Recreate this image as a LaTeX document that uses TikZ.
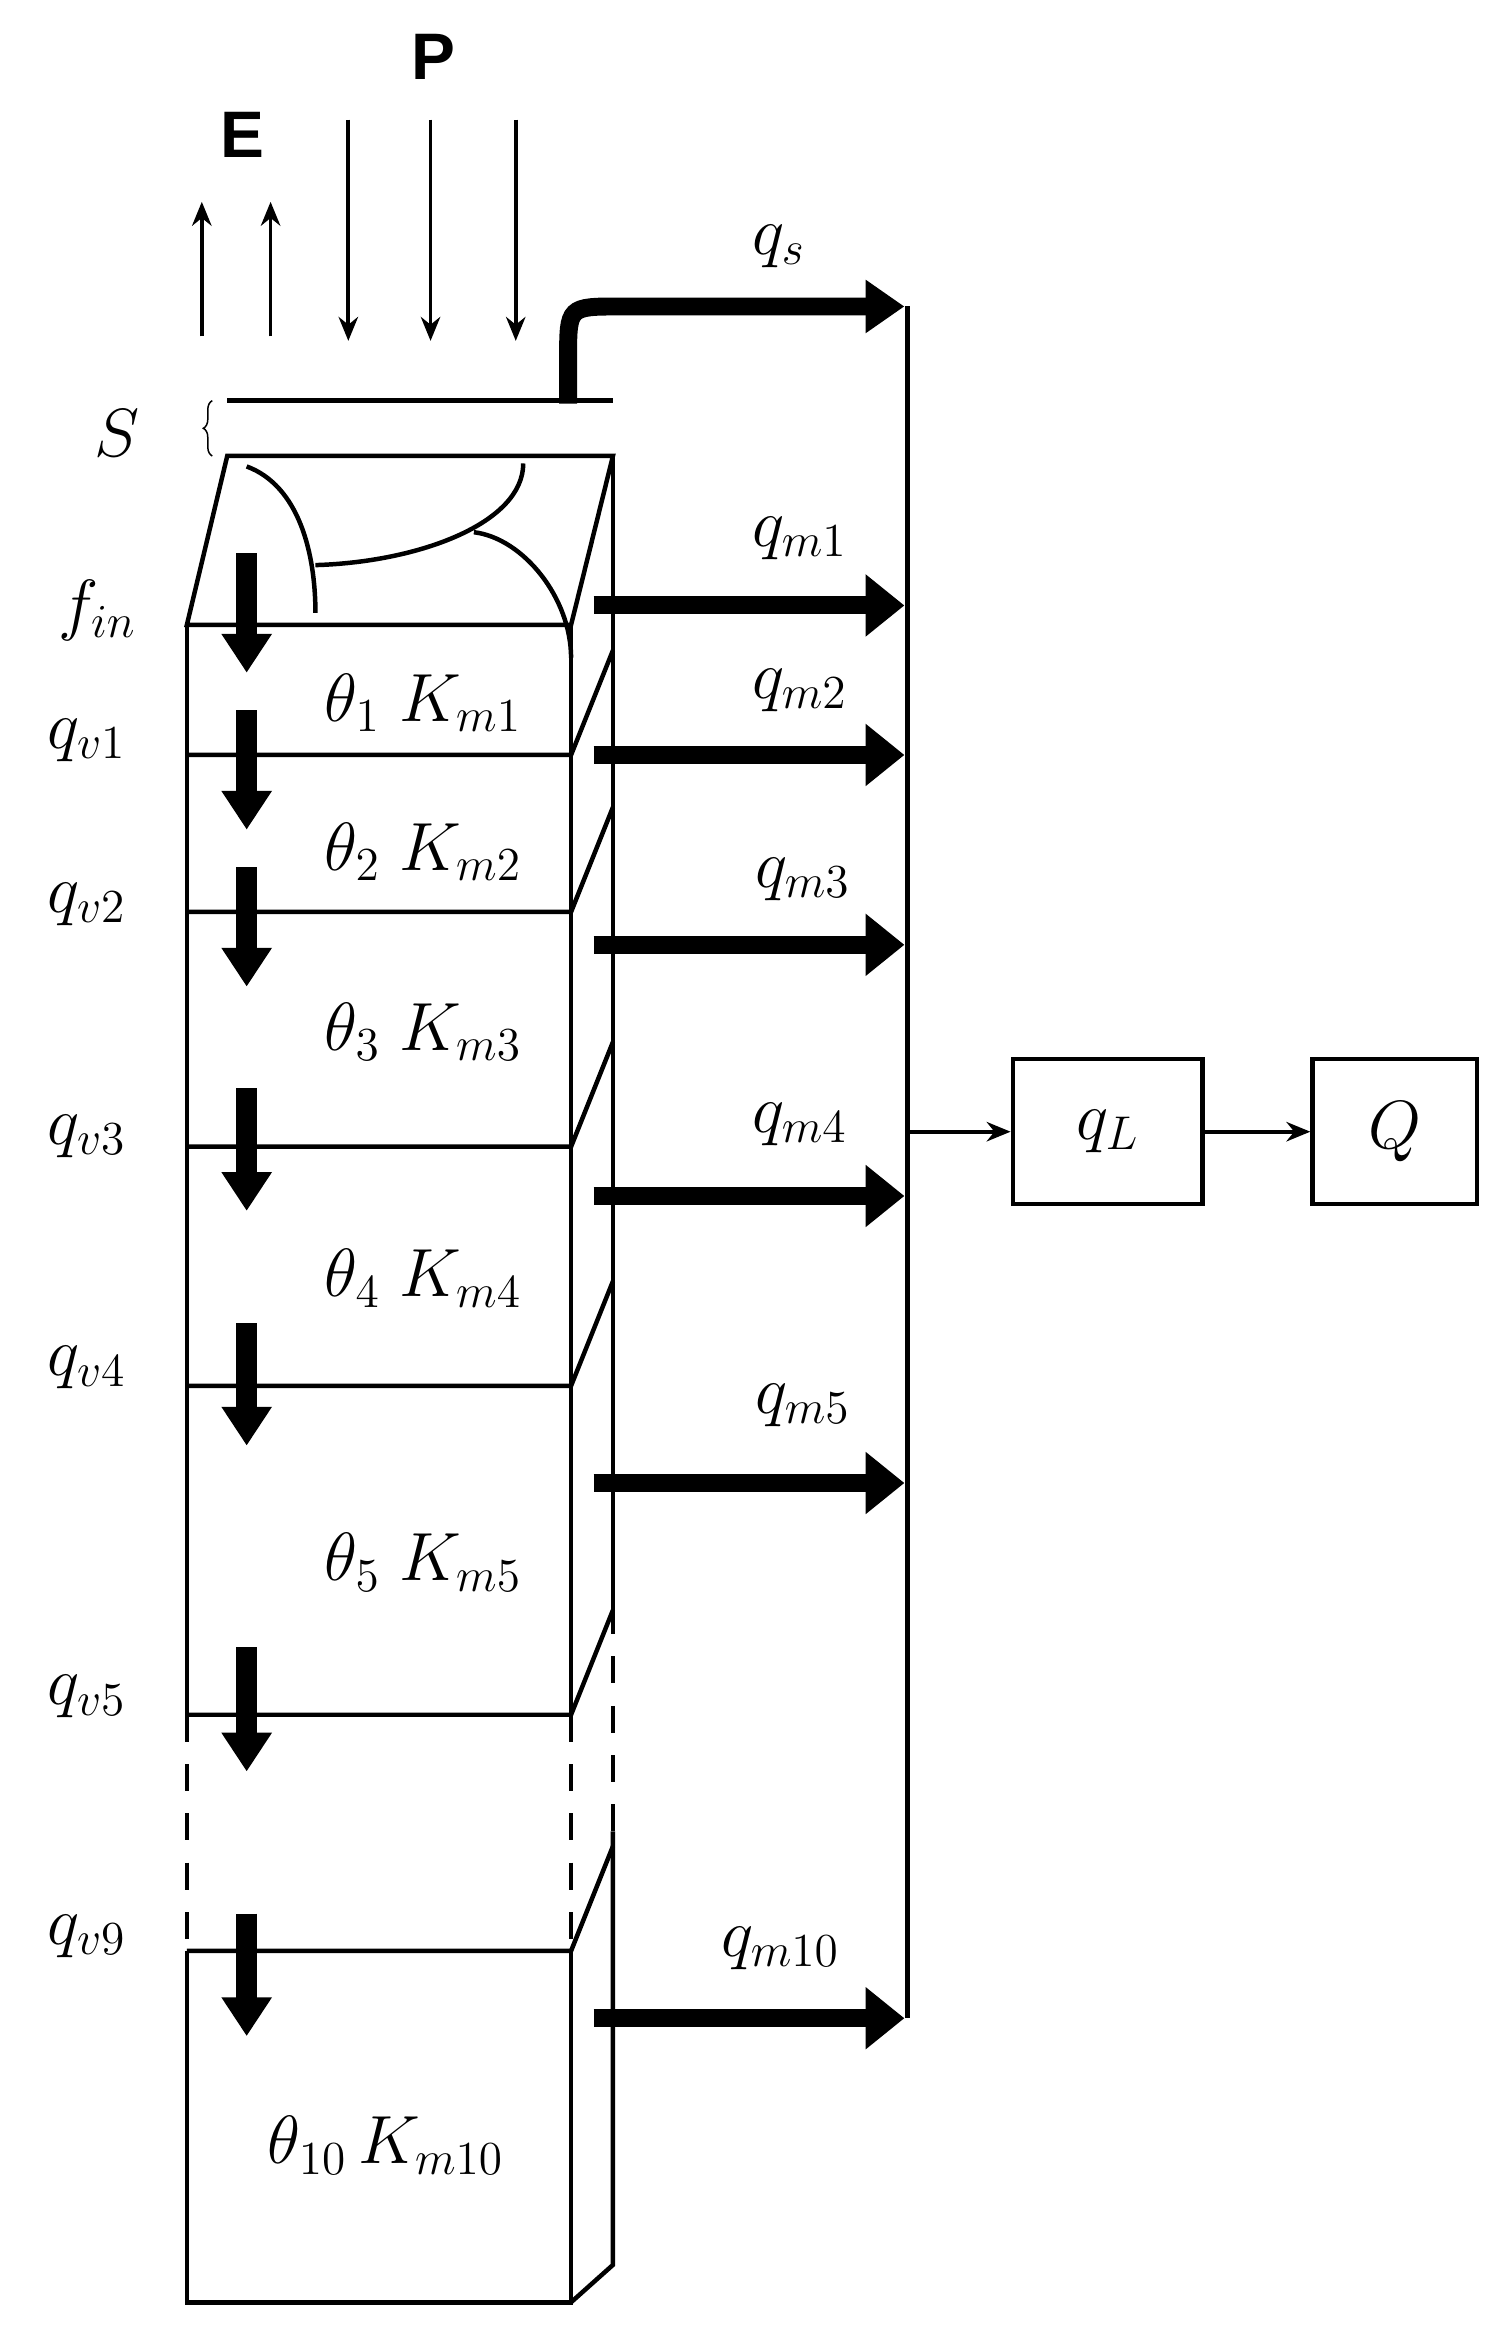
\documentclass[tikz,border=0pt]{standalone}
\usepackage{graphicx}
\usepackage{fontspec}
\newfontfamily\sansb{Liberation Sans}
\usetikzlibrary{arrows.meta,decorations.pathreplacing}
\newcommand{\mlab}[1]{\scalebox{2.2}{\fontsize{20.74}{24}\selectfont$#1$}}
\begin{document}
\begin{tikzpicture}[x=1pt,y=-1pt,
  thin/.style={line width=3pt},
  fat/.style={line width=12pt,-{Triangle[length=26pt,width=40pt]}},
  vfat/.style={line width=14pt,-{Triangle[length=26pt,width=32pt]}},
  lab/.style={inner sep=0pt},
  slab/.style={font=\sansb\bfseries\fontsize{44}{48}\selectfont,inner sep=0pt},
  box/.style={draw,line width=3pt,minimum width=127pt,minimum height=97pt}]
\useasboundingbox (0,0) rectangle (1000,1568.6);
% top face
\draw[thin] (152,305) -- (410,305) -- (382,418) -- (125,418) -- cycle;
\draw[thin] (152,268) -- (410,268);
\draw[decorate,decoration={brace,amplitude=6pt},line width=1pt] (142,305) -- (142,268);
\node[lab] (S) at (78,290) {\mlab{S}};
% curves on top face
\draw[thin] (165,312) .. controls (200,325) and (211,370) .. (211,410);
\draw[thin] (211,378) .. controls (280,376) and (350,350) .. (350,310);
\draw[thin] (317,356) .. controls (350,360) and (382,400) .. (382,440);
% front box sides
\draw[thin] (125,418) -- (125,1147);
\draw[thin,dashed,dash pattern=on 18pt off 15pt] (125,1147) -- (125,1305);
\draw[thin] (125,1305) -- (125,1540) -- (382,1540) -- (382,1305);
\draw[thin,dashed,dash pattern=on 18pt off 15pt] (382,1147) -- (382,1305);
\draw[thin] (382,418) -- (382,1147);
\draw[thin] (410,305) -- (410,1075);
\draw[thin,dashed,dash pattern=on 18pt off 15pt] (410,1075) -- (410,1225);
\draw[thin] (410,1225) -- (410,1515) -- (382,1540);
% layers
\foreach \y in {505,610,767,927,1147,1305}{
  \draw[thin] (125,\y) -- (382,\y) -- (410,\y-70);}
% E and P
\foreach \x in {135,181} \draw[line width=2.5pt,-{Stealth[length=16pt,width=13pt]}] (\x,225) -- (\x,135);
\foreach \x in {233,288,345} \draw[line width=2.5pt,-{Stealth[length=16pt,width=13pt]}] (\x,80) -- (\x,228);
\node[slab] (E) at (162,90) {E};
\node[slab] (P) at (290,38) {P};
% qs
\coordinate (qs0) at (380,270);
\coordinate (qs1) at (605,205);
\draw[line width=12pt,-{Triangle[length=26pt,width=34pt]}] (qs0) -- (380,240) .. controls (380,205) .. (415,205) -- (qs1);
\node[lab] (qs) at (521,165) {\mlab{q_s}};
% collector
\coordinate (c0) at (607,205);
\coordinate (c1) at (607,1350);
\draw[thin] (c0) -- (c1);
% qm arrows
\foreach \y/\l/\lx/\ly in {405/m1/535/360,505/m2/535/462,632/m3/537/588,800/m4/535/752,992/m5/537/940,1350/m10/522/1303}{
  \draw[fat] (397,\y) -- (605,\y);
  \node[lab] at (\lx,\ly) {\mlab{q_{\l}}};}
% vertical thick arrows
\foreach \a/\b in {370/450,475/555,580/660,728/810,885/967,1102/1185,1280/1362}
  \draw[vfat] (165,\a) -- (165,\b);
% left labels
\node[lab] (fin) at (65,408) {\mlab{f_{in}}};
\foreach \y/\n in {495/1,605/2,760/3,915/4,1135/5,1295/9}
  \node[lab] at (58,\y) {\mlab{q_{v\n}}};
% theta labels
\foreach \y/\n in {470/1,570/2,690/3,855/4,1045/5}
  \node[lab] at (283,\y) {\mlab{\theta_{\n}\;K_{m\n}}};
\node[lab] at (258,1435) {\mlab{\theta_{10}\,K_{m10}}};
% boxes
\node[box] (qL) at (741,757) {\mlab{q_L}};
\node[box,minimum width=110pt] (Q) at (933,757) {\mlab{Q}};
\coordinate (cm) at (607,757);
\draw[line width=2.5pt,-{Stealth[length=16pt,width=13pt]}] (cm) -- (qL.west);
\draw[line width=2.5pt,-{Stealth[length=16pt,width=13pt]}] (qL.east) -- (Q.west);
\end{tikzpicture}
\end{document}
